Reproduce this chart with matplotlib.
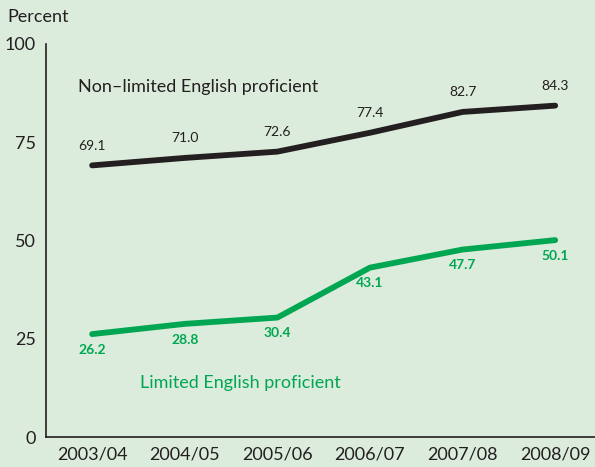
import matplotlib
matplotlib.use("Agg")
import matplotlib.pyplot as plt

years = ["2003/04", "2004/05", "2005/06", "2006/07", "2007/08", "2008/09"]
non_lep = [69.1, 71.0, 72.6, 77.4, 82.7, 84.3]
lep = [26.2, 28.8, 30.4, 43.1, 47.7, 50.1]
y_ticks = [0, 25, 50, 75, 100]

bg = "#dcecdc"
green = "#00a651"
black = "#231f20"

plt.rcParams["font.family"] = ["Lato", "DejaVu Sans"]

fig = plt.figure(figsize=(5.95, 4.67), dpi=100, facecolor=bg)
ax = fig.add_axes([0.077, 0.064, 0.923, 0.842], facecolor=bg)

x = list(range(len(years)))
ax.plot(x, non_lep, color=black, lw=4.2, solid_capstyle="round")
ax.plot(x, lep, color=green, lw=4.2, solid_capstyle="round")

for xi, v in zip(x, non_lep):
    ax.annotate(f"{v:.1f}", (xi, v), xytext=(0, 10), textcoords="offset points",
                ha="center", va="bottom", fontsize=10, color=black)
for xi, v in zip(x, lep):
    ax.annotate(f"{v:.1f}", (xi, v), xytext=(0, -7), textcoords="offset points",
                ha="center", va="top", fontsize=10, color=green, fontweight="bold")

ax.text(-0.15, 89, "Non\u2013limited English proficient", fontsize=13, color=black,
        ha="left", va="center")
ax.text(0.52, 13.7, "Limited English proficient", fontsize=13, color=green,
        ha="left", va="center")

ax.set_xlim(-0.5, 5.43)
ax.set_ylim(0, 100)
ax.set_xticks(x)
ax.set_xticklabels(years, fontsize=13, color=black)
ax.set_yticks(y_ticks)
ax.set_yticklabels([str(t) for t in y_ticks], fontsize=13, color=black)
ax.tick_params(length=0, pad=7)
for s in ["top", "right"]:
    ax.spines[s].set_visible(False)
for s in ["left", "bottom"]:
    ax.spines[s].set_color(black)
    ax.spines[s].set_linewidth(1.2)

fig.text(0.013, 0.98, "Percent", fontsize=13, color=black, ha="left", va="top")

fig.savefig("out.png", dpi=100, facecolor=bg)
